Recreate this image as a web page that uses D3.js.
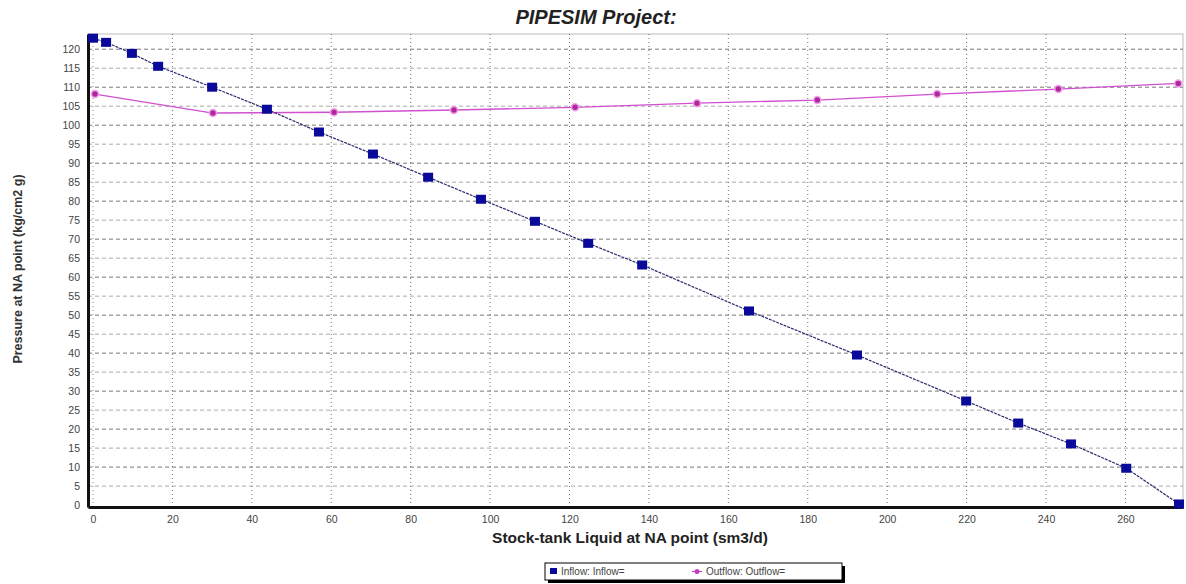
<!DOCTYPE html>
<html>
<head>
<meta charset="utf-8">
<script src="https://cdn.jsdelivr.net/npm/d3@7"></script>
<style>
  body { margin: 0; background: #fff; }
  svg { display: block; font-family: "Liberation Sans", Arial, sans-serif; }
</style>
</head>
<body>
<div class="chart"></div>
<script>
// data
const inflowQ = [0, 3.3, 9.8, 16.4, 30.0, 43.8, 56.9, 70.5, 84.4, 97.7, 111.3, 124.7, 138.3, 165.2, 192.4, 219.9, 233.0, 246.3, 260.2, 273.5];
const inflowP = [122.9, 121.8, 118.9, 115.5, 110.0, 104.2, 98.2, 92.4, 86.3, 80.5, 74.7, 68.9, 63.2, 51.1, 39.5, 27.4, 21.6, 16.1, 9.7, 0.3];
const outflowQ = [0.5, 30.2, 60.7, 90.9, 121.4, 152.1, 182.4, 212.6, 243.1, 273.3];
const outflowP = [108.2, 103.2, 103.4, 104.0, 104.7, 105.8, 106.6, 108.2, 109.5, 111.0];
const xTicks = d3.range(0, 261, 20);
const yTicks = d3.range(0, 121, 5);

var width = 1186, height = 584;
var margin = ({top: 34, right: 3, bottom: 77, left: 88});

const svg = d3.select(".chart").append("svg")
    .attr("width", width)
    .attr("height", height);

let x = d3.scaleLinear()
    .domain([-1.26, 274.5])
    .range([margin.left, width - margin.right]);

let y = d3.scaleLinear()
    .domain([-0.5, 124])
    .range([height - margin.bottom, margin.top]);

// plot frame
svg.append("rect")
    .attr("x", margin.left).attr("y", margin.top)
    .attr("width", width - margin.right - margin.left)
    .attr("height", height - margin.bottom - margin.top)
    .attr("fill", "#fff")
    .attr("stroke", "#bbb");

// grid
svg.append("g")
    .selectAll("line")
    .data(yTicks.filter(d => d > 0))
    .join("line")
    .attr("x1", margin.left).attr("x2", width - margin.right)
    .attr("y1", d => y(d)).attr("y2", d => y(d))
    .attr("stroke", (d, i) => i % 2 ? "#777" : "#aaa")
    .attr("stroke-dasharray", "4,3");

svg.append("g")
    .selectAll("line")
    .data(xTicks.filter(d => d > 0))
    .join("line")
    .attr("x1", d => x(d)).attr("x2", d => x(d))
    .attr("y1", margin.top).attr("y2", height - margin.bottom)
    .attr("stroke", "#777")
    .attr("stroke-dasharray", "1,3");

svg.append("line")
    .attr("x1", x(0)).attr("x2", x(0))
    .attr("y1", margin.top).attr("y2", height - margin.bottom)
    .attr("stroke", "#888")
    .attr("stroke-dasharray", "1,3");

// axes
let xAxis = g => g
    .attr("transform", `translate(0,${height - margin.bottom})`)
    .call(d3.axisBottom(x).tickValues(xTicks).tickSize(0).tickPadding(9))
    .call(g => g.select(".domain").attr("stroke", "#111").attr("stroke-width", 3))
    .call(g => g.selectAll("text").attr("font-size", 10.5).attr("fill", "#444"));

let yAxis = g => g
    .attr("transform", `translate(${margin.left},0)`)
    .call(d3.axisLeft(y).tickValues(yTicks).tickSize(0).tickPadding(8))
    .call(g => g.select(".domain").attr("stroke", "#111").attr("stroke-width", 3))
    .call(g => g.selectAll("text").attr("font-size", 10.5).attr("fill", "#444"));

svg.append("g").call(xAxis);
svg.append("g").call(yAxis);

// lines
let inflow = inflowQ.map((q, i) => [q, inflowP[i]]);
let outflow = outflowQ.map((q, i) => [q, outflowP[i]]);
let line = d3.line().x(d => x(d[0])).y(d => y(d[1]));

svg.append("path")
    .attr("d", line(outflow))
    .attr("fill", "none")
    .attr("stroke", "#d050d0")
    .attr("stroke-width", 1.3);

svg.append("path")
    .attr("d", line(inflow))
    .attr("fill", "none")
    .attr("stroke", "#2a2a70")
    .attr("stroke-width", 1.2)
    .attr("stroke-dasharray", "3,1");

svg.append("g")
    .selectAll("rect")
    .data(inflow)
    .join("rect")
    .attr("x", d => x(d[0]) - 5)
    .attr("y", d => y(d[1]) - 4.5)
    .attr("width", 10).attr("height", 9)
    .attr("fill", "#0a0a9a");

svg.append("g")
    .selectAll("circle")
    .data(outflow)
    .join("circle")
    .attr("cx", d => x(d[0]))
    .attr("cy", d => y(d[1]))
    .attr("r", 3.5)
    .attr("fill", "#b0279b")
    .attr("stroke", "#f0a0ea")
    .attr("stroke-width", 1.5);

// titles
svg.append("text")
    .attr("x", 596).attr("y", 24)
    .attr("text-anchor", "middle")
    .attr("font-size", 20)
    .attr("font-weight", "bold")
    .attr("font-style", "italic")
    .attr("fill", "#222")
    .text("PIPESIM Project:");

svg.append("text")
    .attr("x", 630).attr("y", 543)
    .attr("text-anchor", "middle")
    .attr("font-size", 15.5)
    .attr("font-weight", "bold")
    .attr("fill", "#222")
    .text("Stock-tank Liquid at NA point (sm3/d)");

svg.append("text")
    .attr("transform", "translate(22,269) rotate(-90)")
    .attr("text-anchor", "middle")
    .attr("font-size", 12.5)
    .attr("font-weight", "bold")
    .attr("fill", "#333")
    .text("Pressure at NA point (kg/cm2 g)");

// legend
const legend = svg.append("g").attr("transform", "translate(545,563)");
legend.append("rect")
    .attr("x", 3).attr("y", 3).attr("width", 297).attr("height", 17)
    .attr("fill", "#000");
legend.append("rect")
    .attr("x", 0).attr("y", 0).attr("width", 297).attr("height", 17)
    .attr("fill", "#fff").attr("stroke", "#000");
legend.append("rect")
    .attr("x", 5).attr("y", 5).attr("width", 7).attr("height", 6)
    .attr("fill", "#0a0a9a");
legend.append("text")
    .attr("x", 16).attr("y", 12)
    .attr("font-size", 10).attr("fill", "#444")
    .text("Inflow: Inflow=");
legend.append("circle")
    .attr("cx", 152).attr("cy", 8.5).attr("r", 2.5)
    .attr("fill", "#c040c0");
legend.append("line")
    .attr("x1", 147).attr("x2", 157).attr("y1", 8.5).attr("y2", 8.5)
    .attr("stroke", "#c040c0");
legend.append("text")
    .attr("x", 161).attr("y", 12)
    .attr("font-size", 10).attr("fill", "#444")
    .text("Outflow: Outflow=");
</script>
</body>
</html>
